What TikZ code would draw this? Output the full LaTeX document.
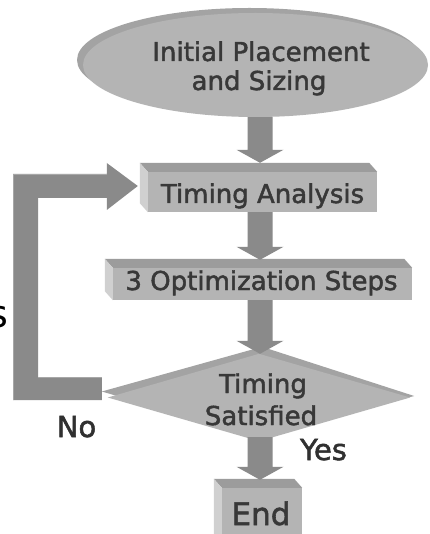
\documentclass[tikz,border=0pt]{standalone}
\usepackage{fontspec}
\setmainfont{DejaVu Sans}
\newfontfamily\chartfont[FakeBold=1.8]{DejaVu Sans}
\usetikzlibrary{shapes.geometric,calc}

\definecolor{facegray}{HTML}{B4B4B4}
\definecolor{topgray}{HTML}{9C9C9C}
\definecolor{sidegray}{HTML}{D0D0D0}
\definecolor{rimgray}{HTML}{A3A3A3}
\definecolor{arrowgray}{HTML}{8A8A8A}
\definecolor{txtgray}{HTML}{383838}

% top and left faces of an extruded box node
\newcommand\bevelbox[1]{%
  \fill[topgray] (#1.north west) -- (#1.north east)
    -- ([shift={(-8,-9)}]#1.north east) -- ([shift={(-8,-9)}]#1.north west) -- cycle;
  \fill[sidegray] (#1.north west) -- (#1.south west)
    -- ([shift={(-8,-9)}]#1.south west) -- ([shift={(-8,-9)}]#1.north west) -- cycle;}

% thick downward block arrow from #1 to the level of #2
\newcommand\downblock[2]{%
  \path #1 coordinate (da) #2 coordinate (db);
  \coordinate (dt) at (da |- db);
  \fill[arrowgray] ([shift={(-12.5,0)}]da) -- ([shift={(12.5,0)}]da)
    -- ([shift={(12.5,-13)}]dt) -- ([shift={(23.5,-13)}]dt) -- (dt)
    -- ([shift={(-23.5,-13)}]dt) -- ([shift={(-12.5,-13)}]dt) -- cycle;}

\tikzset{
  stepface/.style={rectangle, fill=facegray, inner sep=0pt},
  holder/.style={inner sep=0pt},
  flowtext/.style={text=txtgray, inner sep=0pt, anchor=base,
    font=\chartfont\fontsize{26}{30}\selectfont},
  branchtext/.style={text=txtgray!85!black, inner sep=0pt, anchor=base,
    font=\chartfont\fontsize{29}{33}\selectfont},
}

\begin{document}
\begin{tikzpicture}[x=1pt, y=-1pt]
\useasboundingbox (0,0) rectangle (429,534);
\clip (0,0) rectangle (429,534);
\fill[white] (0,0) rectangle (429,534);

% shape holders
\node[holder, ellipse, minimum width=345, minimum height=104] (init) at (255.5,65) {};
\node[holder, diamond, minimum width=302, minimum height=87] (dec) at (259,397.5) {};

% start ellipse
\fill[rimgray] ([shift={(-6,-5)}]init.center) ellipse [x radius=172.5, y radius=52];
\fill[facegray] (init.center) ellipse [x radius=172.5, y radius=52];

% process boxes
\node[stepface, minimum width=229, minimum height=40] (ta) at (262.5,192) {};
\bevelbox{ta}
\node[stepface, minimum width=299, minimum height=32] (opt) at (262.5,284) {};
\bevelbox{opt}
\node[stepface, minimum width=80, minimum height=60] (endn) at (262,518) {};
\bevelbox{endn}

% decision diamond
\fill[rimgray] ([shift={(-6,-6)}]dec.west) -- ([shift={(3,-7)}]dec.north)
  -- ([shift={(4,-1.5)}]dec.east) -- ([shift={(0,-4)}]dec.south) -- cycle;
\fill[facegray] (dec.west) -- (dec.north) -- (dec.east) -- (dec.south) -- cycle;

% forward flow
\downblock{([shift={(4.5,0)}]init.south)}{([shift={(0,-9)}]ta.north)}
\downblock{([shift={(-2.5,0)}]ta.south)}{([shift={(0,-8)}]opt.north)}
\downblock{([shift={(-2.5,0)}]opt.south)}{(dec.north)}
\downblock{([shift={(1,-4)}]dec.south)}{([shift={(0,-8)}]endn.north)}

% feedback loop: No branch back to timing analysis
\coordinate (lb) at ([shift={(-6,-9)}]dec.west);
\coordinate (lt) at ([shift={(-10,-6)}]ta.west);
\coordinate (lx) at (25.5,0);
\fill[arrowgray] let \p1=(lb), \p2=(lt), \p3=(lx) in
  (\x1,\y1+11.5pt) -- (\x3+12.5pt,\y1+11.5pt) -- (\x3+12.5pt,\y2-12pt)
  -- (\x2-31pt,\y2-12pt) -- (\x2-31pt,\y2-24pt) -- (\x2,\y2)
  -- (\x2-31pt,\y2+23pt) -- (\x2-31pt,\y2+12pt) -- (\x3-12.5pt,\y2+12pt)
  -- (\x3-12.5pt,\y1-11.5pt) -- (\x1,\y1-11.5pt) -- cycle;
\draw[arrowgray!75!white, line width=0.8pt] let \p1=(lb), \p2=(lt), \p3=(lx) in
  (\x3-12.1pt,\y1-11.5pt) -- (\x3-12.1pt,\y2+11.6pt) -- (\x2-31pt,\y2+11.6pt);
\draw[arrowgray!75!white, line width=0.8pt] let \p1=(lb), \p3=(lx) in
  (\x3+12.5pt,\y1+11.1pt) -- (\x1,\y1+11.1pt);

% labels
\node[flowtext] (tinit1) at (261,61) {Initial Placement};
\node[flowtext] (tinit2) at (259,90) {and Sizing};
\node[flowtext] (tta) at (262.5,203) {Timing Analysis};
\node[flowtext] (topt) at (261.5,290) {3 Optimization Steps};
\node[flowtext] (tdec1) at (263,393) {Timing};
\node[flowtext] (tdec2) at (261,425) {Satisfied};
\node[branchtext] (tno) at (76.5,437) {No};
\node[branchtext] (tyes) at (323.5,460) {Yes};
\node[flowtext, font=\chartfont\fontsize{31}{35}\selectfont] (tend) at (261,525) {End};
\node[inner sep=0pt, anchor=base east, font=\fontsize{38}{42}\selectfont] (tcut) at (8,327) {s};
\end{tikzpicture}
\end{document}
